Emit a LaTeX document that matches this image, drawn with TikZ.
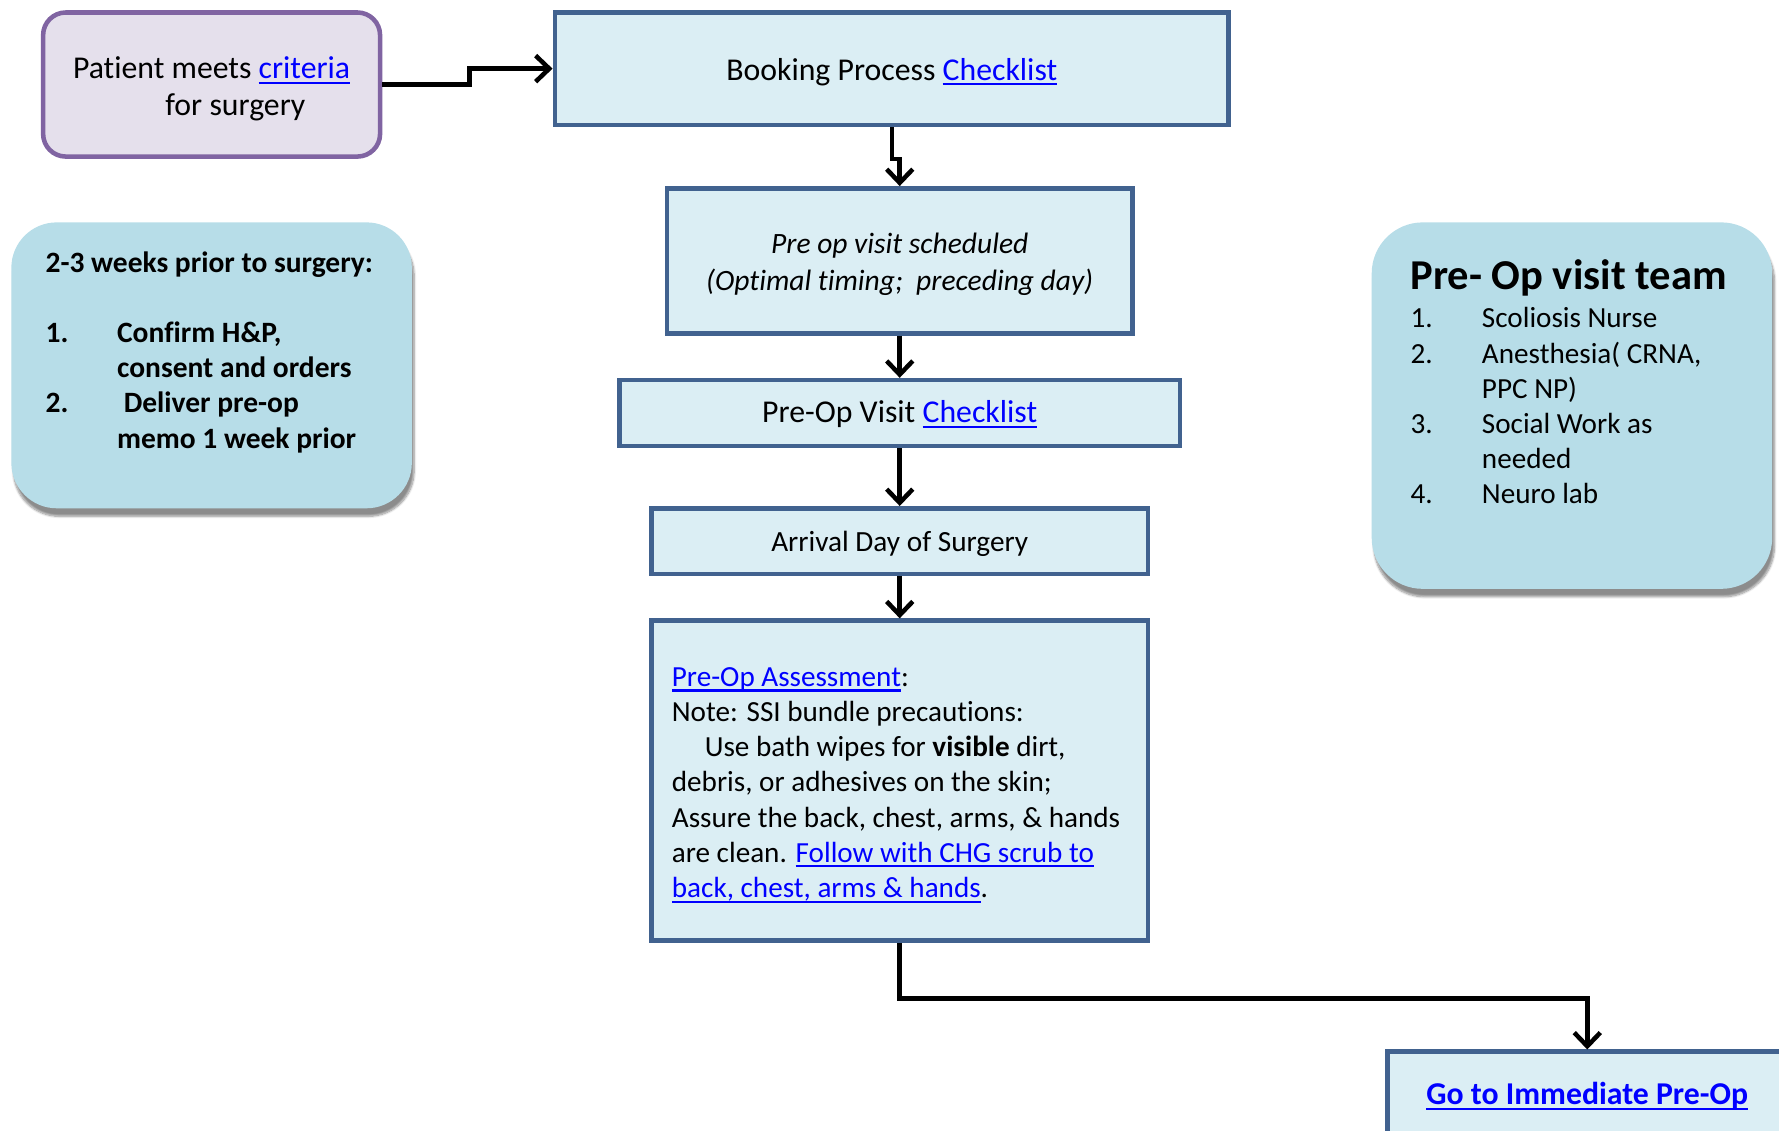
\documentclass[tikz,border=0pt]{standalone}
\usepackage{fontspec}
\setmainfont{Carlito}[Ligatures=NoCommon]
\usetikzlibrary{arrows.meta,shadows.blur}
\definecolor{flowfill}{HTML}{DBEEF4}
\definecolor{flowdraw}{HTML}{41628F}
\definecolor{patfill}{HTML}{E5E0EC}
\definecolor{patdraw}{HTML}{8064A2}
\definecolor{notefill}{HTML}{B7DDE8}
\definecolor{linkblue}{HTML}{0000FF}
\newcommand{\lnk}[1]{{\color{linkblue}\setbox0\hbox{#1}\rlap{\rule[-4.5pt]{\wd0}{1.8pt}}\box0}}
\tikzset{
  every node/.style={font=\fontsize{28}{31}\selectfont, inner sep=0pt},
  flowbox/.style={draw=flowdraw, fill=flowfill, line width=4pt, rectangle},
  patbox/.style={draw=patdraw, fill=patfill, line width=4pt, rounded corners=20pt},
  notebox/.style={fill=notefill, rectangle, blur shadow={shadow xshift=2pt, shadow yshift=-7pt, shadow blur steps=8, shadow opacity=45}},
  conn/.style={line width=4pt, -{Straight Barb[length=12pt, width=23pt, line width=4pt]}},
}
\begin{document}
\begin{tikzpicture}[x=1pt, y=-1pt]
\useasboundingbox (0,0) rectangle (1568,996);
\clip (0,0) rectangle (1568,996);
% notes
\node[notebox, rounded corners=40pt, minimum width=353pt, minimum height=252pt] (left) at (186.5,322) {};
\node[notebox, rounded corners=45pt, minimum width=353pt, minimum height=323pt] (team) at (1385.5,357.5) {};
\node[anchor=base west, align=left, font=\fontsize{26}{31}\selectfont\bfseries] (lefttext) at (40,395)
 {2-3 weeks prior to surgery:\\[31pt]
  \makebox[63pt][l]{1.}Confirm H\&P,\\
  \hspace*{63pt}consent and orders\\
  \makebox[63pt][l]{2.}\ Deliver pre-op\\
  \hspace*{63pt}memo 1 week prior};
\node[anchor=base west, font=\fontsize{37.5}{40}\selectfont\bfseries] (teamtitle) at (1243,255) {Pre- Op visit team};
\node[anchor=base west, align=left, font=\fontsize{25.7}{31}\selectfont] (teamlist) at (1243,444)
 {\makebox[63pt][l]{1.}Scoliosis Nurse\\
  \makebox[63pt][l]{2.}Anesthesia( CRNA,\\
  \hspace*{63pt}PPC NP)\\
  \makebox[63pt][l]{3.}Social Work as\\
  \hspace*{63pt}needed\\
  \makebox[63pt][l]{4.}Neuro lab};
% flow boxes
\node[patbox, minimum width=297pt, minimum height=127pt] (pat) at (186.5,74.5) {};
\node[align=center, font=\fontsize{28}{33}\selectfont] (pattext) at ([yshift=-4pt]pat.center)
 {Patient meets \lnk{criteria}\\ \hspace*{42pt}for surgery};
\node[flowbox, minimum width=594pt, minimum height=99pt] (book) at (786,60.5) {};
\node (booktext) at ([yshift=-3pt]book.center) {Booking Process \lnk{Checklist}};
\node[flowbox, minimum width=410pt, minimum height=128pt] (sched) at (793,230) {};
\node[align=center, font=\fontsize{26}{32}\selectfont\itshape] (schedtext) at ([yshift=-3pt]sched.center)
 {Pre op visit scheduled\\(Optimal timing;\ \ preceding day)};
\node[flowbox, minimum width=494pt, minimum height=58pt] (visit) at (793,364) {};
\node (visittext) at ([yshift=-1pt]visit.center) {Pre-Op Visit \lnk{Checklist}};
\node[flowbox, minimum width=438pt, minimum height=58pt] (arr) at (793,477) {};
\node[font=\fontsize{25.8}{31}\selectfont] (arrtext) at ([yshift=-2pt]arr.center) {Arrival Day of Surgery};
\node[flowbox, minimum width=438pt, minimum height=282pt] (assess) at (793,688) {};
\node[anchor=base west, align=left, font=\fontsize{25.7}{31}\selectfont] (assesstext) at (592,791)
 {\lnk{Pre-Op Assessment}:\\
  Note: SSI bundle precautions:\\
  \hspace*{29pt}Use bath wipes for \textbf{visible} dirt,\\
  debris, or adhesives on the skin;\\
  Assure the back, chest, arms, \& hands\\
  are clean. \lnk{Follow with CHG scrub to}\\
  \lnk{back, chest, arms \& hands}.};
\node[flowbox, minimum width=352pt, minimum height=74pt] (goto) at (1399,964) {};
\node[font=\fontsize{28}{31}\selectfont\bfseries] (gototext) at ([yshift=-2pt]goto.center) {\lnk{Go to Immediate Pre-Op}};
% connectors
\draw[conn] (pat.east) -- ++(77,0) |- (book.west);
\draw[conn] (book.south) -- ++(0,28) -| (sched.north);
\draw[conn] (sched.south) -- (visit.north);
\draw[conn] (visit.south) -- (arr.north);
\draw[conn] (arr.south) -- (assess.north);
\draw[conn] (assess.south) -- ++(0,49) -| (goto.north);
\end{tikzpicture}
\end{document}
